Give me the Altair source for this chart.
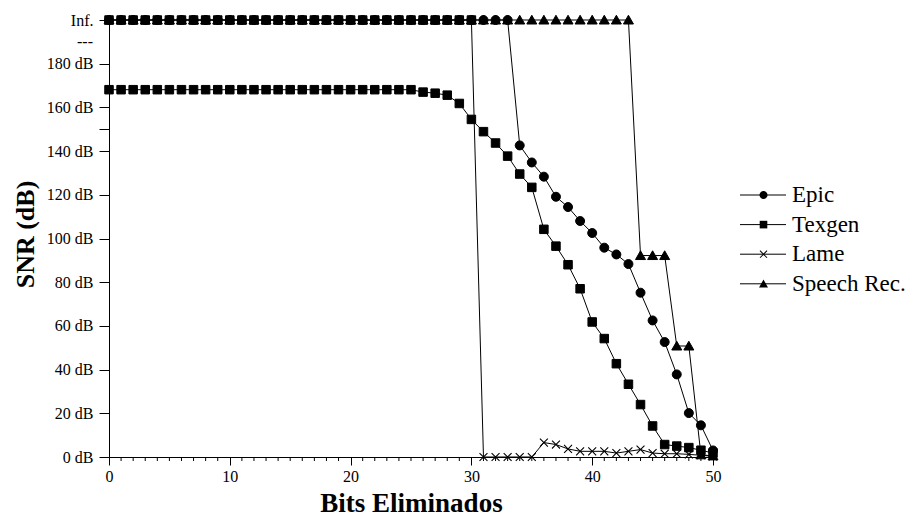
import math
import altair as alt
import pandas as pd

# ---------------- data ----------------
bits = list(range(51))
series_names = ["Epic", "Texgen", "Lame", "Speech Rec."]

# 200 dB stands for "Inf."
epic_snr = [200, 200, 200, 200, 200, 200, 200, 200, 200, 200,
            200, 200, 200, 200, 200, 200, 200, 200, 200, 200,
            200, 200, 200, 200, 200, 200, 200, 200, 200, 200,
            200, 200, 200, 200, 142.6, 134.8, 128.3, 119.1, 114.4, 108.0,
            102.5, 95.8, 92.7, 88.3, 75.2, 62.5, 52.6, 37.8, 20.1, 14.5,
            3.0]
texgen_snr = [168.1, 168.1, 168.1, 168.1, 168.1, 168.1, 168.1, 168.1, 168.1, 168.1,
              168.1, 168.1, 168.1, 168.1, 168.1, 168.1, 168.1, 168.1, 168.1, 168.1,
              168.1, 168.1, 168.1, 168.1, 168.1, 168.1, 167.0, 166.5, 165.6, 161.8,
              154.5, 148.9, 143.7, 137.7, 129.5, 123.4, 104.2, 96.5, 88.0, 77.0,
              61.8, 54.2, 42.7, 33.3, 24.0, 14.2, 5.7, 5.0, 4.3, 3.1,
              1.8]
lame_snr = [200, 200, 200, 200, 200, 200, 200, 200, 200, 200,
            200, 200, 200, 200, 200, 200, 200, 200, 200, 200,
            200, 200, 200, 200, 200, 200, 200, 200, 200, 200,
            200, 0, 0, 0, 0, 0, 6.6, 5.7, 3.7, 2.6,
            2.6, 2.6, 1.8, 2.6, 3.4, 1.8, 1.5, 1.5, 1.2, 0.8,
            0.3]
speech_snr = [200, 200, 200, 200, 200, 200, 200, 200, 200, 200,
              200, 200, 200, 200, 200, 200, 200, 200, 200, 200,
              200, 200, 200, 200, 200, 200, 200, 200, 200, 200,
              200, 200, 200, 200, 200, 200, 200, 200, 200, 200,
              200, 200, 200, 200, 92.2, 92.2, 92.2, 50.8, 50.8, 1.0,
              0.5]

y_tick_values = [0, 20, 40, 60, 80, 100, 120, 140, 150, 160, 180, 200]
y_extra_label_values = [190]
y_extra_labels = ["---"]
x_major_ticks = [0, 10, 20, 30, 40, 50]
x_minor_ticks = [b for b in bits if b % 10 != 0]

# ---------------- tables ----------------
series_values = {"Epic": epic_snr, "Texgen": texgen_snr,
                 "Lame": lame_snr, "Speech Rec.": speech_snr}
draw_rank = {"Speech Rec.": 0, "Epic": 1, "Texgen": 2, "Lame": 3}
rows = []
for name in series_names:
    for b, v in zip(bits, series_values[name]):
        rows.append({"series": name, "series_line": name + " ", "bit": b, "snr": v,
                     "draw": draw_rank[name] * 100 + b})
df = pd.DataFrame(rows)
is_lame = df["series"] == "Lame"
is_inf = df["snr"] >= 200
df_points = df[~is_lame]
df_lame_pts = df[is_lame & ~is_inf]
df_lame_inf = df[is_lame & is_inf]
df_minor = pd.DataFrame({"bit": x_minor_ticks})
df_extra = pd.DataFrame({"snr": y_extra_label_values, "label": y_extra_labels})

# ---------------- marker shapes ----------------
circle_p = "M0.9,0A0.9,0.9 0 1,1 -0.9,0A0.9,0.9 0 1,1 0.9,0Z"
square_p = "M-0.85,-0.85H0.85V0.85H-0.85Z"
tri_p = "M0,-0.95L1,0.8L-1,0.8Z"


def x_polygon(L, w):
    pts = [(w, L), (w, w), (L, w), (L, -w), (w, -w), (w, -L),
           (-w, -L), (-w, -w), (-L, -w), (-L, w), (-w, w), (-w, L)]
    r = [((px - py) / math.sqrt(2), (px + py) / math.sqrt(2)) for px, py in pts]
    return "M" + "L".join("%.3f,%.3f" % p for p in r) + "Z"


cross_p = x_polygon(1.12, 0.11)
legend_line_p = "M-4.6,0H4.6"

FONT = "Liberation Serif"

x_scale = alt.Scale(domain=[0, 50], nice=False, zero=False)
y_scale = alt.Scale(domain=[0, 200], nice=False)

x_enc = alt.X(
    "bit:Q",
    scale=x_scale,
    axis=alt.Axis(
        values=x_major_ticks,
        title="Bits Eliminados",
        titleFont=FONT, titleFontSize=27, titleFontWeight="bold",
        titleBaseline="alphabetic", titleY=54,
        labelFont=FONT, labelFontSize=16, labelPadding=3, tickSize=8,
        labelFlush=False, labelOverlap=False,
    ),
)
y_enc = alt.Y(
    "snr:Q",
    scale=y_scale,
    axis=alt.Axis(
        values=y_tick_values,
        title="SNR (dB)",
        titleFont=FONT, titleFontSize=26, titleFontWeight="bold",
        titleBaseline="alphabetic", titleX=-76, titleY=214, titleAngle=270,
        labelExpr=("datum.value === 200 ? 'Inf.' : "
                   "datum.value === 150 ? '' : datum.value + ' dB'"),
        labelFont=FONT, labelFontSize=16, labelPadding=6, tickSize=10,
        labelFlush=False, labelOverlap=False,
    ),
)

shape_scale = alt.Scale(domain=series_names, range=[circle_p, square_p, cross_p, tri_p])
shape_legend = alt.Legend(
    title=None, orient="none", legendX=643, legendY=163.5,
    symbolSize=80, symbolStrokeWidth=1, symbolFillColor="black",
    symbolStrokeColor="black", symbolOpacity=1,
    labelFont=FONT, labelFontSize=23, labelColor="black", labelOffset=17,
    rowPadding=5.6, padding=0, labelLimit=300,
)

lines = alt.Chart(df).mark_line(strokeWidth=1).encode(
    x=x_enc, y=y_enc,
    color=alt.Color(
        "series_line:N",
        scale=alt.Scale(domain=[n + " " for n in series_names],
                        range=["black", "black", "black", "black"]),
        legend=alt.Legend(
            title=None, orient="none", legendX=642.5, legendY=163.5,
            symbolType=legend_line_p, symbolSize=100, symbolStrokeWidth=1,
            symbolStrokeColor="black", symbolOpacity=1,
            labelFont=FONT, labelFontSize=23, labelOpacity=0, labelOffset=16.5,
            rowPadding=5.6, padding=0, labelLimit=300,
        ),
    ),
    order="bit:Q",
)

minor_ticks = alt.Chart(df_minor).mark_rule(color="black", strokeWidth=1).encode(
    x=x_enc,
    y=alt.value(437),
    y2=alt.value(441),
)

extra_label = alt.Chart(df_extra).mark_text(
    align="right", baseline="middle", font=FONT, fontSize=16, color="black"
).encode(
    x=alt.value(-16),
    y=y_enc,
    text="label:N",
)

points = alt.Chart(df_points).mark_point(
    filled=True, fill="black", stroke="black", strokeWidth=1, opacity=1, size=100
).encode(
    x=x_enc, y=y_enc,
    shape=alt.Shape("series:N", scale=shape_scale, legend=shape_legend),
    order=alt.Order("draw:Q"),
)

lame_points = alt.Chart(df_lame_pts).mark_point(
    filled=True, fill="black", strokeWidth=0, opacity=1, size=100
).encode(
    x=x_enc, y=y_enc,
    shape=alt.Shape("series:N", scale=shape_scale, legend=shape_legend),
)

inf_squares = alt.Chart(df_lame_inf).mark_point(
    filled=True, fill="black", stroke="black", strokeWidth=1, opacity=1, size=100,
    shape=square_p,
).encode(x=x_enc, y=y_enc)

chart = (
    alt.layer(lines, minor_ticks, extra_label, points, lame_points, inf_squares)
    .properties(
        width=604, height=437,
        autosize="none",
        padding={"left": 109, "top": 20, "right": 201, "bottom": 59},
    )
    .configure_view(strokeWidth=0)
    .configure_axis(domainColor="black", tickColor="black", labelColor="black",
                    titleColor="black", grid=False, domainWidth=1, tickWidth=1,
                    labelFont=FONT, labelFontSize=16, titleFont=FONT)
    .configure_legend(labelFont=FONT)
)

chart.save("out.html", embed_options={"renderer": "svg", "actions": False})
